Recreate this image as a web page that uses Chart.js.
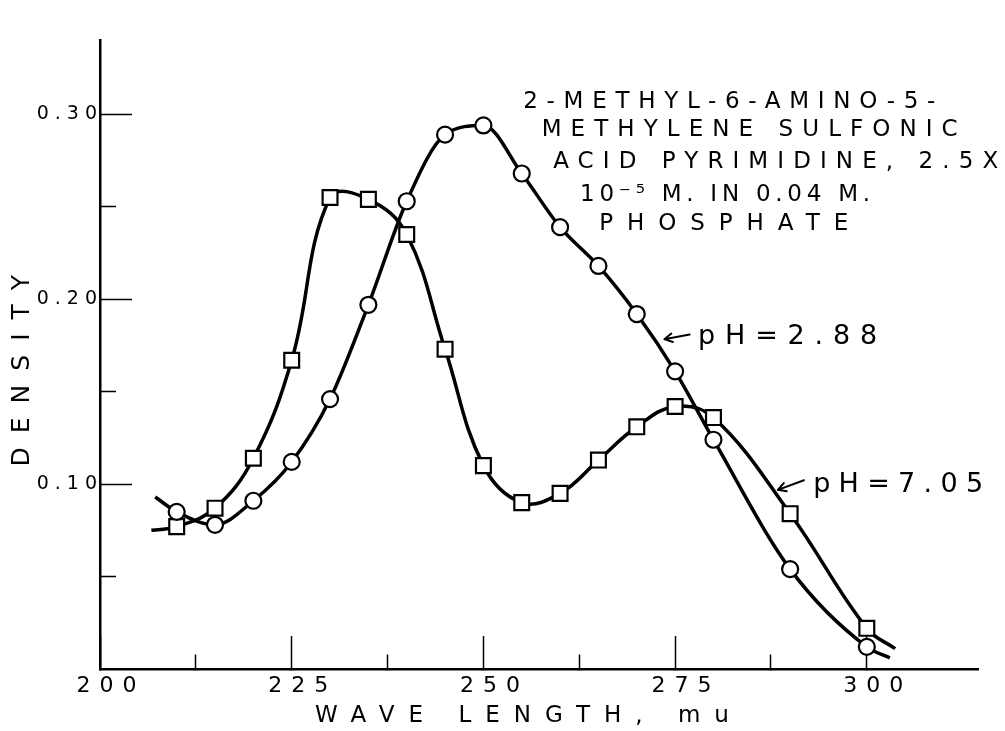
<!DOCTYPE html>
<html>
<head>
<meta charset="utf-8">
<script src="https://cdn.jsdelivr.net/npm/chart.js@4/dist/chart.umd.min.js"></script>
<style>
  html, body { margin: 0; padding: 0; background: #fff; }
  #wrap { width: 1005px; height: 731px; position: relative; }
</style>
</head>
<body>
<div id="wrap"><canvas id="c"></canvas></div>
<script>
// ---------------- data ----------------
const wavelengths = [210, 215, 220, 225, 230, 235, 240, 245, 250, 255, 260, 265, 270, 275, 280, 290, 300];
const densityPH288 = [0.085, 0.078, 0.091, 0.112, 0.146, 0.197, 0.253, 0.289, 0.294, 0.268, 0.239, 0.218, 0.192, 0.161, 0.124, 0.054, 0.012];
const densityPH705 = [0.077, 0.087, 0.114, 0.167, 0.255, 0.254, 0.235, 0.173, 0.110, 0.090, 0.095, 0.113, 0.131, 0.142, 0.136, 0.084, 0.022];
// where the hand-drawn curves begin and end (wavelength, density)
const curveEndsPH288 = [[207.2, 0.093], [303.0, 0.006]];
const curveEndsPH705 = [[206.7, 0.075], [303.7, 0.011]];

const xTickValues = [200, 212.5, 225, 237.5, 250, 262.5, 275, 287.5, 300];
const xTickLabels = ['200', '', '225', '', '250', '', '275', '', '300'];
const yTickValues = [0.05, 0.10, 0.15, 0.20, 0.25, 0.30];
const yTickLabels = ['', '0.10', '', '0.20', '', '0.30'];

const seriesNames = ['pH = 2.88', 'pH = 7.05'];
const noteLines = ['2-METHYL-6-AMINO-5-', 'METHYLENE SULFONIC', 'ACID PYRIMIDINE, 2.5X', '10\u207B\u2075 M. IN 0.04 M.', 'PHOSPHATE'];
const phLabels = ['pH=2.88', 'pH=7.05'];

// ---------------- helpers ----------------
const FONT = '"DejaVu Sans", "Liberation Sans", sans-serif';
const toPoints = (xs, ys) => xs.map((v, i) => ({ x: v, y: ys[i] }));
const curve = (xs, ys, ends) => [{ x: ends[0][0], y: ends[0][1] }, ...toPoints(xs, ys), { x: ends[1][0], y: ends[1][1] }];

// letter spacing for the hand-lettered axis texts
const scaleTextStyle = {
  x: { ticks: 9, title: 14, dx: -10, dy: 0 },
  y: { ticks: 6, title: 14, dx: 0, dy: 9 }
};
const spacingPlugin = {
  id: 'spacing',
  beforeDraw(chart) {
    Object.values(chart.scales).forEach(s => {
      if (s.__wrapped) return;
      const st = scaleTextStyle[s.id];
      if (!st) return;
      const origLabels = s.drawLabels;
      const origTitle = s.drawTitle;
      s.drawLabels = function (area) {
        const c = this.ctx; c.save(); c.letterSpacing = st.ticks + 'px';
        origLabels.call(this, area); c.restore();
      };
      s.drawTitle = function () {
        const c = this.ctx; c.save(); c.letterSpacing = st.title + 'px';
        c.translate(st.dx, st.dy);
        origTitle.call(this); c.restore();
      };
      s.__wrapped = true;
    });
  }
};

// annotation texts and arrows
const notesPlugin = {
  id: 'notes',
  afterDraw(chart) {
    const { ctx, scales: { x, y } } = chart;
    ctx.save();
    ctx.fillStyle = '#000';
    ctx.strokeStyle = '#000';
    ctx.textAlign = 'left';
    ctx.textBaseline = 'alphabetic';
    const fitted = (text, xv, yv, width, size) => {
      ctx.font = size + 'px ' + FONT;
      ctx.letterSpacing = '0px';
      const natural = ctx.measureText(text).width;
      const n = Array.from(text).length;
      ctx.letterSpacing = ((width - natural) / (n - 1)) + 'px';
      ctx.fillText(text, x.getPixelForValue(xv), y.getPixelForValue(yv));
    };
    // title block
    const noteX = [255.2, 257.6, 259.1, 262.6, 265.1];
    const noteY = [0.3036, 0.2881, 0.2711, 0.2531, 0.2376];
    const noteW = [412, 416, 445, 290, 249];
    noteLines.forEach((t, i) => fitted(t, noteX[i], noteY[i], noteW[i], 23));
    // pH labels
    fitted(phLabels[0], 278.0, 0.1758, 179, 27);
    fitted(phLabels[1], 293.0, 0.0959, 170, 27);
    // arrows
    const arrow = (tail, tip) => {
      const x1 = x.getPixelForValue(tail[0]), y1 = y.getPixelForValue(tail[1]);
      const x2 = x.getPixelForValue(tip[0]), y2 = y.getPixelForValue(tip[1]);
      const a = Math.atan2(y2 - y1, x2 - x1);
      ctx.lineWidth = 2;
      ctx.lineCap = 'round';
      ctx.beginPath();
      ctx.moveTo(x1, y1); ctx.lineTo(x2, y2);
      ctx.moveTo(x2, y2); ctx.lineTo(x2 - 9 * Math.cos(a - 0.5), y2 - 9 * Math.sin(a - 0.5));
      ctx.moveTo(x2, y2); ctx.lineTo(x2 - 9 * Math.cos(a + 0.5), y2 - 9 * Math.sin(a + 0.5));
      ctx.stroke();
    };
    arrow([276.9, 0.1809], [273.6, 0.1784]);
    arrow([291.8, 0.1021], [288.4, 0.0969]);
    ctx.restore();
  }
};

// ---------------- chart ----------------
const lineStyle = { borderColor: '#000', borderWidth: 3.5, pointRadius: 0, pointHoverRadius: 0, showLine: true, fill: false, order: 1 };
const markerStyle = { showLine: false, pointBackgroundColor: '#fff', pointBorderColor: '#000', pointBorderWidth: 2.2, order: 0 };

new Chart(document.getElementById('c'), {
  type: 'scatter',
  data: {
    datasets: [
      Object.assign({ label: seriesNames[0] + ' curve', data: curve(wavelengths, densityPH288, curveEndsPH288), cubicInterpolationMode: 'monotone' }, lineStyle),
      Object.assign({ label: seriesNames[1] + ' curve', data: curve(wavelengths, densityPH705, curveEndsPH705), tension: 0.4 }, lineStyle),
      Object.assign({ label: seriesNames[0], data: toPoints(wavelengths, densityPH288), pointStyle: 'circle', pointRadius: 8 }, markerStyle),
      Object.assign({ label: seriesNames[1], data: toPoints(wavelengths, densityPH705), pointStyle: 'rect', pointRadius: 10.5 }, markerStyle)
    ]
  },
  options: {
    responsive: true,
    maintainAspectRatio: false,
    devicePixelRatio: 1,
    animation: false,
    events: [],
    layout: { padding: { top: 9, right: 27, left: 0, bottom: 0 } },
    plugins: { legend: { display: false }, tooltip: { enabled: false } },
    scales: {
      x: {
        type: 'linear', position: 'bottom', min: 200, max: 314.5,
        afterBuildTicks: s => { s.ticks = xTickValues.map(v => ({ value: v })); },
        afterFit: s => { s.height = 62; },
        ticks: {
          autoSkip: false, maxRotation: 0, minRotation: 0, padding: 37, labelOffset: 11,
          color: '#000', font: { family: FONT, size: 22 },
          callback: (v, i) => xTickLabels[i]
        },
        grid: {
          display: true, drawOnChartArea: false, drawTicks: true, tickLength: -33,
          tickWidth: 1.5, tickColor: '#000',
          tickBorderDash: c => (xTickLabels[c.index] ? [] : [16, 100])
        },
        border: { display: true, color: '#000', width: 2.5 },
        title: { display: true, text: 'WAVE LENGTH, mu', color: '#000', font: { family: FONT, size: 23 }, padding: { top: 0, bottom: 1 } }
      },
      y: {
        type: 'linear', position: 'left', min: 0, max: 0.34,
        afterBuildTicks: s => { s.ticks = yTickValues.map(v => ({ value: v })); },
        afterFit: s => { s.width = 100; },
        ticks: {
          autoSkip: false, padding: 29,
          color: '#000', font: { family: FONT, size: 19 },
          callback: (v, i) => yTickLabels[i]
        },
        grid: {
          display: true, drawOnChartArea: false, drawTicks: true, tickLength: -32,
          tickWidth: 1.5, tickColor: '#000',
          tickBorderDash: c => (yTickLabels[c.index] ? [] : [0, 16, 17, 100])
        },
        border: { display: true, color: '#000', width: 2.5 },
        title: { display: true, text: 'DENSITY', color: '#000', font: { family: FONT, size: 25 }, padding: { top: 7, bottom: 0 } }
      }
    }
  },
  plugins: [spacingPlugin, notesPlugin]
});
</script>
</body>
</html>
